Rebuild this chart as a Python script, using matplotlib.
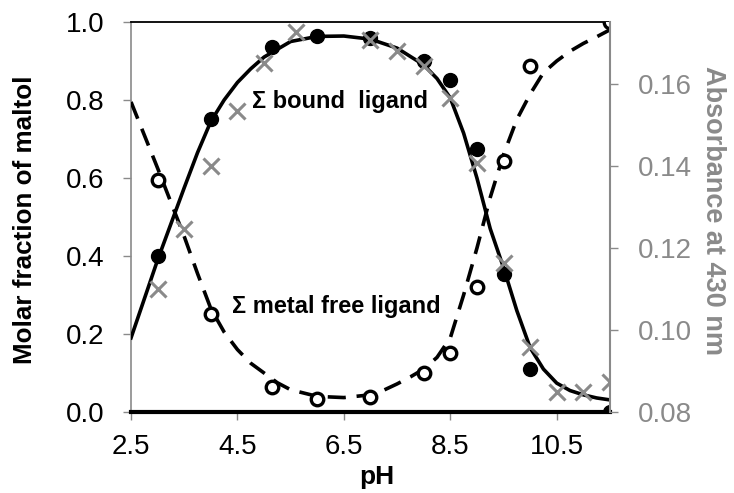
import matplotlib
matplotlib.use("Agg")
import matplotlib.pyplot as plt

plt.rcParams["font.family"] = ["Liberation Sans", "DejaVu Sans"]

GRAY = "#8a8a8a"

# measured points
ph_pts = [3.0, 4.0, 5.15, 6.0, 7.0, 8.0, 8.5, 9.0, 9.5, 10.0, 11.5]
bound_pts = [0.40, 0.75, 0.935, 0.965, 0.96, 0.90, 0.85, 0.675, 0.355, 0.11, 0.0]
free_pts = [0.595, 0.25, 0.064, 0.033, 0.038, 0.10, 0.152, 0.32, 0.643, 0.887, 1.0]

# absorbance at 430 nm (right axis)
ph_abs = [3.0, 3.5, 4.0, 4.5, 5.0, 5.6, 7.0, 7.5, 8.0, 8.5, 9.0, 9.5, 10.0, 10.5, 11.0, 11.5]
absorb = [0.110, 0.1246, 0.1398, 0.1534, 0.165, 0.1725, 0.1707, 0.168, 0.1644, 0.1566,
          0.1407, 0.1163, 0.0959, 0.0849, 0.0849, 0.0873]

# fitted curves
ph_fit_b = [2.5, 3.0, 3.5, 3.75, 4.0, 4.25, 4.5, 4.75, 5.0, 5.5, 6.0, 6.5, 7.0, 7.5,
            8.0, 8.25, 8.5, 8.75, 9.0, 9.25, 9.5, 9.75, 10.0, 10.25, 10.5, 10.75,
            11.0, 11.25, 11.5]
bound_fit = [0.19, 0.39, 0.575, 0.665, 0.745, 0.80, 0.845, 0.88, 0.91, 0.95, 0.963,
             0.964, 0.956, 0.933, 0.89, 0.855, 0.805, 0.715, 0.60, 0.47, 0.37, 0.26,
             0.165, 0.11, 0.074, 0.055, 0.044, 0.036, 0.031]
ph_fit_f = [2.5, 3.0, 3.5, 3.75, 4.0, 4.25, 4.5, 4.75, 5.0, 5.25, 5.5, 6.0, 6.5, 7.0,
            7.25, 7.5, 7.75, 8.0, 8.25, 8.5, 8.75, 9.0, 9.25, 9.5, 9.75, 10.0, 10.25,
            10.5, 10.75, 11.0, 11.25, 11.5]
free_fit = [0.795, 0.625, 0.45, 0.355, 0.265, 0.205, 0.16, 0.125, 0.10, 0.075, 0.057,
            0.04, 0.037, 0.044, 0.056, 0.072, 0.09, 0.11, 0.14, 0.19, 0.30, 0.42,
            0.55, 0.66, 0.75, 0.815, 0.87, 0.90, 0.925, 0.945, 0.962, 0.98]

x_ticks = [2.5, 4.5, 6.5, 8.5, 10.5]
left_ticks = [0.0, 0.2, 0.4, 0.6, 0.8, 1.0]
right_ticks = [0.08, 0.10, 0.12, 0.14, 0.16]

fig = plt.figure(figsize=(7.34, 4.93), dpi=100)
ax = fig.add_axes([0.1785, 0.1643, 0.6525, 0.7911])

ax.plot(ph_fit_b, bound_fit, color="black", lw=2.6, zorder=3)
ax.plot(ph_fit_f, free_fit, color="black", lw=2.6, dashes=(5, 3), zorder=3)
ax.plot(ph_pts, bound_pts, "o", color="black", ms=10, zorder=4)
ax.plot(ph_pts, free_pts, "o", mfc="white", mec="black", mew=2.4, ms=9, zorder=4)

ax.set_xlim(2.5, 11.5)
ax.set_ylim(0.0, 1.0)
ax.set_xticks(x_ticks)
ax.set_xticklabels([f"{v:.1f}" for v in x_ticks])
ax.set_yticks(left_ticks)
ax.set_yticklabels([f"{v:.1f}" for v in left_ticks])
ax.tick_params(axis="both", direction="out", length=6, width=1, color=GRAY,
               labelsize=20, labelcolor="black")
ax.tick_params(axis="x", pad=10)
ax.tick_params(axis="y", pad=13)

ax.spines["left"].set_color(GRAY)
ax.spines["left"].set_linewidth(1.2)
ax.spines["bottom"].set_color("black")
ax.spines["bottom"].set_linewidth(3)
ax.spines["top"].set_color("black")
ax.spines["top"].set_linewidth(1.3)
ax.spines["right"].set_visible(False)

fig.text(377 / 734, 1 - 477 / 493, "pH", fontsize=19, fontweight="bold",
         ha="center", va="center")
fig.text(25 / 734, 1 - 220 / 493, "Molar fraction of maltol", fontsize=18.7,
         fontweight="bold", rotation=90, ha="center", va="center")

ax.text(4.77, 0.795, "Σ bound  ligand", fontsize=17, fontweight="bold",
        ha="left", va="center", zorder=5)
ax.text(4.4, 0.27, "Σ metal free ligand", fontsize=17, fontweight="bold",
        ha="left", va="center", zorder=5)

ax2 = ax.twinx()
ax2.plot(ph_abs, absorb, "x", color=GRAY, ms=11, mew=2.2, zorder=4)
ax2.set_ylim(0.08, 0.175)
ax2.set_yticks(right_ticks)
ax2.set_yticklabels([f"{v:.2f}" for v in right_ticks])
ax2.tick_params(axis="y", direction="out", length=6, width=1, color=GRAY,
                labelsize=20, labelcolor=GRAY, pad=14)
for side in ["left", "top", "bottom"]:
    ax2.spines[side].set_visible(False)
ax2.spines["right"].set_color(GRAY)
ax2.spines["right"].set_linewidth(1.5)
fig.text(713 / 734, 1 - 210 / 493, "Absorbance at 430 nm", fontsize=19.5,
         fontweight="bold", color=GRAY, rotation=270, ha="center", va="center")

fig.savefig("out.png", dpi=100)
